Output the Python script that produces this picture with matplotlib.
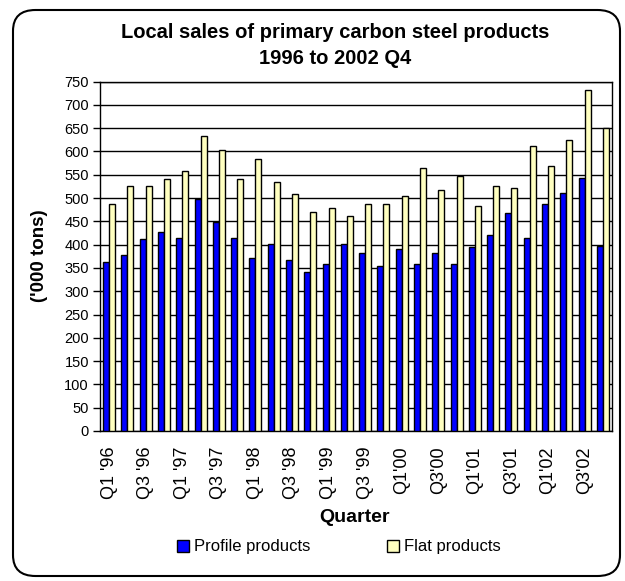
import matplotlib
matplotlib.use("Agg")
import matplotlib.pyplot as plt
import numpy as np
from matplotlib.patches import FancyBboxPatch

plt.rcParams['font.family'] = ['Liberation Sans', 'DejaVu Sans']

quarters = [f"Q{q} '{y:02d}" if y >= 96 else f"Q{q}'{y:02d}"
            for y in [96, 97, 98, 99, 0, 1, 2] for q in [1, 2, 3, 4]]
profile = [363, 377, 411, 428, 415, 497, 449, 415, 372, 401, 368, 342, 359, 401,
           381, 355, 390, 359, 381, 359, 394, 420, 467, 415, 488, 510, 543, 398]
flat = [488, 526, 526, 540, 557, 634, 604, 540, 583, 535, 509, 470, 479, 462,
        488, 488, 505, 565, 518, 548, 483, 526, 522, 612, 569, 625, 732, 651]

fig = plt.figure(figsize=(6.25, 5.81), dpi=100)
ax = fig.add_axes([100/625, 1-431/581, 512/625, 349.5/581])

x = np.arange(len(quarters))
w = 0.33
ax.bar(x - w/2, profile, w, color='#0000FF', edgecolor='black', linewidth=1,
       label='Profile products', zorder=3)
ax.bar(x + w/2, flat, w, color='#FFFFC0', edgecolor='black', linewidth=1,
       label='Flat products', zorder=3)

ax.set_xlim(-0.5, len(quarters) - 0.5)
ax.set_ylim(0, 750)
ax.set_yticks(np.arange(0, 751, 50))
ax.yaxis.grid(True, color='black', linewidth=1, zorder=0)
ax.set_axisbelow(True)
ax.set_xticks(x[::2])
ax.set_xticklabels(quarters[::2], rotation=90, fontsize=13)
ax.tick_params(axis='x', length=0, pad=11)
ax.tick_params(axis='y', length=5, width=1, labelsize=10.5, pad=3, direction='out')
for s in ax.spines.values():
    s.set_color('black')
    s.set_linewidth(1)

fig.text(335/625, 1-32/581, 'Local sales of primary carbon steel products',
         ha='center', va='center', fontsize=14.5, fontweight='bold')
fig.text(335/625, 1-58/581, '1996 to 2002 Q4',
         ha='center', va='center', fontsize=14.5, fontweight='bold')
fig.text(355/625, 1-517/581, 'Quarter', ha='center', va='center',
         fontsize=14, fontweight='bold')
fig.text(39/625, 1-256/581, "('000 tons)", ha='center', va='center',
         rotation=90, fontsize=13.5, fontweight='bold')

leg = fig.legend(loc='center', bbox_to_anchor=(339/625, 1-547/581), ncol=2,
                 frameon=False, fontsize=12, handlelength=0.7, handleheight=0.7,
                 handletextpad=0.3, columnspacing=4.6)

box = FancyBboxPatch((13/625, 5/581), 607/625, 566/581,
                     boxstyle='round,pad=0,rounding_size=0.036',
                     transform=fig.transFigure, facecolor='none',
                     edgecolor='black', linewidth=1.5, zorder=-1)
fig.patches.append(box)

fig.savefig('out.png', dpi=100)
